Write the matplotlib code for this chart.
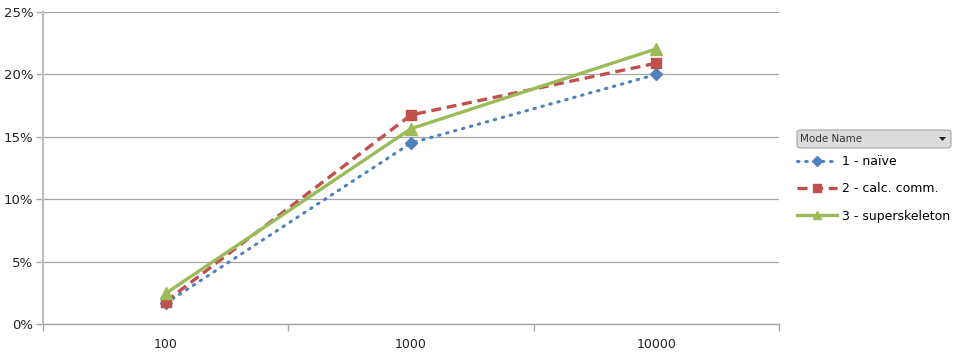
import matplotlib.pyplot as plt
import matplotlib.patches as mpatches
from matplotlib.ticker import FuncFormatter, FixedLocator

# data
categories = ['100', '1000', '10000']
naive = [1.65, 14.5, 20.0]
calc_comm = [1.8, 16.75, 20.9]
superskeleton = [2.45, 15.65, 22.05]
series_names = ['1 - naïve', '2 - calc. comm.', '3 - superskeleton']

blue = '#4F81BD'
red = '#C0504D'
green = '#9BBB59'

plt.rcParams['font.family'] = ['DejaVu Sans']

fig = plt.figure(figsize=(9.6, 3.55), dpi=100)
ax = fig.add_axes([43 / 960, 1 - 324 / 355, (779 - 43) / 960, (324 - 12) / 355])

x = list(range(len(categories)))
l1, = ax.plot(x, naive, color=blue, lw=2.2, ls=(0, (0.5, 2.2)), dash_capstyle='round',
              marker='D', ms=6.5, mec=blue, mfc=blue, label=series_names[0], zorder=3)
l2, = ax.plot(x, calc_comm, color=red, lw=2.4, ls=(0, (3, 1.7)),
              marker='s', ms=7.5, mec=red, mfc=red, label=series_names[1], zorder=3)
l3, = ax.plot(x, superskeleton, color=green, lw=2.4, ls='-',
              marker='^', ms=8, mec=green, mfc=green, label=series_names[2], zorder=4)

ax.set_xlim(-0.5, len(categories) - 0.5)
ax.set_ylim(0, 25)
ax.set_yticks([0, 5, 10, 15, 20, 25])
ax.yaxis.set_major_formatter(FuncFormatter(lambda v, p: f'{int(v)}%'))
ax.grid(axis='y', color='#A6A6A6', lw=0.9)
ax.set_axisbelow(True)

ax.set_xticks(x)
ax.set_xticklabels(categories)
ax.xaxis.set_minor_locator(FixedLocator([i - 0.5 for i in range(len(categories) + 1)]))
ax.tick_params(axis='x', which='major', length=0, pad=10, labelsize=9, colors='#222222')
ax.tick_params(axis='x', which='minor', length=5, width=1, color='#A6A6A6')
ax.tick_params(axis='y', length=5, width=1, color='#A6A6A6', labelsize=9.5,
               labelcolor='#222222', pad=2)

for side in ['top', 'right']:
    ax.spines[side].set_visible(False)
ax.spines['left'].set_color('#BFBFBF')
ax.spines['left'].set_linewidth(1.6)
ax.spines['bottom'].set_color('#A6A6A6')
ax.spines['bottom'].set_linewidth(1.0)

# legend header box
hdr = mpatches.FancyBboxPatch((797 / 960, 1 - 148 / 355), 154 / 960, 18 / 355,
                              boxstyle='round,pad=0,rounding_size=0.006',
                              transform=fig.transFigure, facecolor='#DCDCDC',
                              edgecolor='#A6A6A6', lw=0.8)
fig.patches.append(hdr)
fig.text(800 / 960, 1 - 139 / 355, 'Mode Name', fontsize=7.5, va='center', ha='left',
         color='#333333')
tri = mpatches.Polygon([(939 / 960, 1 - 137 / 355), (946 / 960, 1 - 137 / 355),
                        (942.5 / 960, 1 - 141 / 355)], closed=True,
                       transform=fig.transFigure, facecolor='#222222', edgecolor='none')
fig.patches.append(tri)

fig.legend(handles=[l1, l2, l3], loc='upper left', bbox_to_anchor=(792 / 960, 1 - 150 / 355),
           frameon=False, fontsize=9, handlelength=3.2, handletextpad=0.4,
           labelspacing=1.15, borderaxespad=0, markerscale=0.8)

fig.savefig('out.png', dpi=100)
